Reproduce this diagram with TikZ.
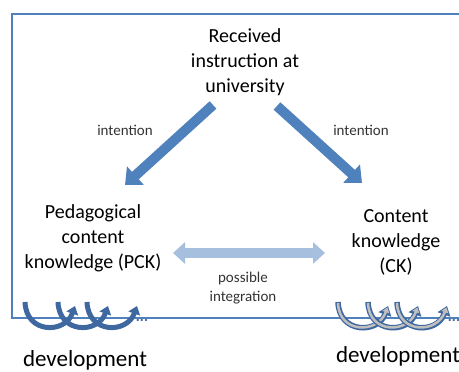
\documentclass[tikz,border=0pt]{standalone}
\usepackage{fontspec}
\setmainfont{Carlito}
\usepackage{tikz}
\usetikzlibrary{arrows.meta,positioning,calc}
\definecolor{boxblue}{RGB}{79,129,189}
\definecolor{lightblue}{RGB}{167,191,222}
\definecolor{curlblue}{RGB}{63,104,160}
\definecolor{curlgrey}{RGB}{191,191,191}

\tikzset{
  big/.style={font=\fontsize{20}{25}\selectfont, align=center},
  small/.style={font=\fontsize{15}{19}\selectfont, align=center, text=black!80},
  dev/.style={font=\fontsize{23}{27}\selectfont},
  fatarrow/.style={boxblue, line width=10pt, -{Triangle[width=24pt,length=14pt]}},
  twoarrow/.style={lightblue, line width=10pt, {Triangle[width=21pt,length=12pt]}-{Triangle[width=21pt,length=12pt]}}
}

\begin{document}
\begin{tikzpicture}[x=1pt, y=-1pt]
    \clip (0,0) rectangle (459,372);
    \fill[white] (0,0) rectangle (459,372);
    % frame
    \draw[boxblue, line width=1.3pt] (12,14) rectangle (480,318);
    % top
    \node[big] (rec) at (245,62) {Received\\instruction at\\university};
    % left and right
    \node[big] (pck) at (93,238) {Pedagogical\\content\\knowledge (PCK)};
    \node[big] (ck) at (396,242) {Content\\knowledge\\(CK)};
    % labels
    \node[small] (lint) at (125,130) {intention};
    \node[small] (rint) at (361,130) {intention};
    \node[small] (integ) at (243,288) {possible\\integration};
    \node[dev] (devl) at (85,360) {development};
    \node[dev] (devr) at (398,356) {development};
    % arrows
    \draw[fatarrow] ($(rec.center)+(-32,43)$) -- ($(pck.center)+(32,-53)$);
    \draw[fatarrow] ($(rec.center)+(32,44)$) -- ($(ck.center)+(-34,-59)$);
    \draw[twoarrow] ($(pck.center)+(80,15)$) -- ($(ck.center)+(-71,11)$);
    % development curls
    \foreach \s in {25,58,87} {
      \draw[curlblue, line width=5pt, -{Triangle[width=12pt,length=8pt]}]
        (\s,302) .. controls (\s+1,334) and (\s+40,334) .. (\s+50,306);
    }
    \node[curlblue, font=\fontsize{15}{15}\selectfont\bfseries] (dotsl) at (142,320) {...};
    \foreach \s in {338,368,397} {
      \draw[curlblue, line width=5.5pt, -{Triangle[width=13pt,length=9pt]}]
        (\s,302) .. controls (\s+1,334) and (\s+40,334) .. (\s+50,306);
      \draw[curlgrey, line width=2.5pt, -{Triangle[width=7pt,length=5pt]}, shorten >=1.5pt]
        (\s,303) .. controls (\s+1,334) and (\s+40,334) .. (\s+50,306);
    }
    \node[curlblue, font=\fontsize{15}{15}\selectfont\bfseries] (dotsr) at (454,320) {...};
\end{tikzpicture}
\end{document}
